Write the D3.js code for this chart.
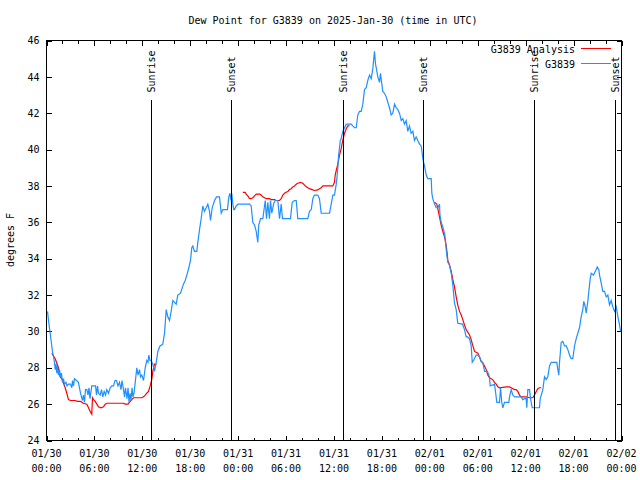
<!DOCTYPE html>
<html><head><meta charset="utf-8">
<script src="https://cdn.jsdelivr.net/npm/d3@7"></script>
<style>
body{margin:0;background:#fff}
svg text{font-family:"DejaVu Sans Mono","Liberation Mono",monospace;font-size:10px;fill:#000}
</style></head><body>
<svg id="chart" width="640" height="480"></svg>
<script>
const titleText = "Dew Point for G3839 on 2025-Jan-30 (time in UTC)";
const yLabelText = "degrees F";
const seriesNames = ["G3839 Analysis", "G3839"];
const seriesColors = ["#ff0000", "#1e90ff"];
// hours after 2025-01-30 00:00 UTC, dew point (F)
const obsSeries = [[0.13,31.1],[0.25,30.6],[0.46,29.9],[0.66,29.2],[0.75,28.9],[0.88,28.6],[1.0,28.3],[1.09,27.9],[1.19,28.2],[1.29,27.7],[1.38,28.1],[1.5,27.6],[1.63,27.9],[1.75,27.5],[1.88,27.7],[2.0,27.2],[2.13,27.4],[2.25,27.1],[2.44,27.2],[2.57,27.0],[2.75,27.1],[3.0,27.1],[3.17,26.9],[3.26,27.3],[3.38,27.0],[3.5,27.4],[3.76,27.3],[4.0,27.2],[4.13,26.9],[4.26,26.6],[4.38,26.4],[4.51,26.2],[4.63,26.5],[4.76,26.1],[4.88,26.8],[5.05,26.8],[5.2,26.5],[5.32,26.9],[5.45,26.3],[5.67,27.0],[5.89,27.0],[6.14,27.0],[6.26,26.5],[6.39,27.0],[6.51,26.6],[6.72,26.5],[6.89,26.8],[7.05,26.4],[7.22,26.7],[7.39,26.5],[7.55,26.8],[7.76,26.6],[7.98,26.9],[8.18,27.0],[8.39,27.0],[8.58,27.3],[8.77,27.3],[8.95,27.0],[9.14,27.2],[9.33,26.8],[9.45,27.3],[9.64,26.8],[9.77,26.4],[9.89,26.9],[10.08,26.3],[10.21,26.9],[10.33,26.1],[10.46,26.6],[10.58,26.2],[10.71,26.9],[10.83,26.4],[10.96,26.6],[11.11,27.2],[11.31,28.0],[11.46,27.6],[11.65,27.9],[11.77,27.5],[11.93,27.6],[12.15,27.3],[12.36,28.0],[12.56,28.4],[12.71,28.3],[12.81,28.7],[12.96,28.4],[13.11,28.4],[13.31,28.2],[13.52,27.8],[13.74,28.3],[13.94,28.9],[14.21,29.2],[14.56,29.3],[14.78,29.9],[14.99,31.2],[15.19,30.8],[15.4,30.6],[15.61,31.1],[15.82,31.7],[16.03,31.6],[16.24,31.5],[16.44,32.0],[16.78,32.1],[17.15,32.6],[17.37,32.8],[17.57,33.1],[17.82,33.5],[18.03,33.9],[18.19,34.6],[18.32,34.7],[18.53,34.4],[18.82,34.4],[18.95,34.9],[19.16,35.6],[19.37,36.2],[19.57,36.9],[19.78,36.6],[20.0,36.8],[20.2,37.0],[20.41,36.6],[20.54,36.1],[20.75,36.8],[21.04,37.2],[21.29,37.4],[21.66,37.4],[21.88,36.5],[22.08,36.7],[22.41,36.7],[22.66,36.7],[22.83,37.4],[22.98,37.6],[23.1,37.2],[23.2,37.6],[23.33,37.0],[23.45,36.7],[23.54,36.7],[23.75,36.9],[23.98,37.0],[24.42,37.0],[24.92,37.0],[25.42,37.0],[25.63,36.9],[25.83,36.0],[26.05,35.85],[26.26,35.5],[26.46,34.9],[26.58,35.85],[26.8,36.2],[27.09,36.2],[27.3,36.9],[27.39,37.2],[27.55,36.2],[27.71,37.1],[27.92,36.2],[28.05,37.2],[28.21,36.5],[28.46,37.05],[28.64,37.2],[28.96,37.2],[29.18,36.2],[29.39,37.0],[29.55,36.2],[30.18,36.2],[30.55,36.2],[30.77,37.1],[31.05,37.2],[31.27,37.2],[31.47,36.2],[32.31,36.2],[32.72,36.2],[32.93,36.6],[33.15,36.7],[33.35,37.3],[33.56,37.5],[33.97,37.5],[34.18,37.3],[34.4,36.5],[34.81,36.5],[35.44,36.5],[35.65,37.0],[35.85,37.5],[36.06,37.5],[36.28,38.1],[36.38,38.5],[36.48,39.0],[36.56,39.6],[36.69,40.1],[36.79,40.5],[36.9,40.6],[37.1,41.0],[37.32,41.2],[37.53,41.4],[38.15,41.4],[38.35,41.3],[38.57,41.2],[38.78,41.2],[38.98,41.9],[39.19,42.1],[39.41,42.1],[39.61,42.5],[39.82,43.3],[40.03,43.4],[40.23,43.8],[40.45,44.1],[40.66,43.9],[40.86,44.45],[41.07,45.4],[41.2,44.7],[41.29,44.5],[41.49,44.0],[41.7,43.7],[41.82,44.2],[41.99,43.6],[42.11,43.2],[42.32,43.1],[42.54,42.9],[42.74,42.6],[42.95,42.3],[43.16,41.9],[43.36,42.0],[43.58,42.5],[43.79,42.3],[43.99,42.2],[44.2,42.0],[44.42,41.6],[44.62,41.7],[44.83,41.4],[45.04,41.6],[45.24,41.0],[45.45,41.3],[45.66,40.9],[45.87,41.0],[46.08,40.5],[46.29,40.7],[46.49,40.5],[46.71,40.3],[46.92,40.2],[47.04,39.8],[47.12,39.5],[47.33,39.1],[47.55,38.6],[47.75,38.4],[48.17,38.4],[48.25,37.6],[48.37,37.3],[48.59,37.0],[48.8,36.8],[49.0,36.8],[49.21,37.0],[49.27,36.4],[49.42,36.0],[49.62,35.75],[49.84,35.4],[49.96,35.0],[50.05,34.5],[50.25,33.8],[50.46,33.65],[50.68,33.2],[50.88,32.55],[51.09,31.55],[51.3,31.2],[51.5,30.45],[52.09,30.4],[52.34,30.1],[52.55,29.7],[52.72,29.7],[52.97,29.6],[53.18,29.2],[53.31,28.3],[53.47,28.4],[53.81,28.7],[54.01,28.7],[54.22,28.6],[54.43,28.35],[54.63,28.3],[54.85,27.8],[55.22,27.8],[55.47,27.5],[55.56,27.0],[56.1,27.1],[56.22,26.7],[56.39,26.1],[56.73,26.1],[56.85,26.9],[57.01,26.1],[57.14,25.8],[57.35,26.1],[57.89,26.1],[57.98,26.4],[58.19,26.8],[58.39,26.5],[58.6,26.4],[59.44,26.4],[59.64,26.25],[59.85,26.3],[60.07,26.3],[60.14,25.8],[60.27,26.8],[60.48,26.8],[60.61,26.3],[60.82,25.8],[61.73,25.8],[61.82,26.3],[61.95,26.5],[62.15,26.8],[62.24,27.1],[62.36,27.5],[62.57,27.35],[62.77,27.5],[62.99,28.1],[63.2,28.3],[63.9,28.3],[64.03,27.9],[64.15,27.6],[64.24,28.3],[64.45,29.4],[64.65,29.45],[64.86,29.2],[65.08,29.2],[65.28,29.0],[65.49,28.7],[65.7,28.5],[65.9,28.5],[66.12,29.2],[66.33,29.6],[66.53,29.9],[66.74,30.2],[66.95,30.8],[67.15,31.2],[67.28,31.65],[67.49,31.3],[67.58,31.0],[67.78,31.65],[67.91,32.2],[68.08,32.9],[68.21,33.2],[68.5,33.1],[68.83,33.4],[68.96,33.55],[69.16,33.4],[69.25,33.1],[69.46,32.65],[69.66,32.2],[69.87,32.2],[70.09,31.9],[70.29,32.0],[70.5,31.45],[70.71,31.7],[70.91,31.35],[71.13,31.1],[71.34,31.35],[71.55,30.8],[71.76,30.35],[71.88,30.0]];
// analysis series; null marks a gap
const anaSeries = [[0.66,28.8],[1.09,28.5],[1.29,28.25],[1.5,28.0],[1.72,27.5],[1.92,27.4],[2.13,27.15],[2.34,26.9],[2.54,26.6],[2.75,26.25],[3.0,26.2],[3.59,26.2],[3.88,26.15],[4.26,26.15],[4.63,26.05],[5.05,26.0],[5.26,25.8],[5.47,25.6],[5.67,25.45],[5.76,26.35],[5.89,26.25],[6.1,26.15],[6.3,26.0],[6.51,25.85],[6.82,25.8],[7.14,25.85],[7.35,26.0],[7.55,26.05],[8.51,26.05],[9.64,26.05],[9.85,26.0],[10.21,26.0],[10.48,26.15],[10.68,26.25],[10.89,26.35],[11.93,26.35],[12.15,26.4],[12.36,26.5],[12.56,26.6],[12.77,26.7],[12.98,27.0],[13.18,27.35],[13.31,27.8],[13.52,28.2],[13.77,28.2],
[14.0,null],
[24.58,37.65],[24.88,37.65],[25.0,37.55],[25.21,37.45],[25.42,37.3],[25.63,37.3],[25.83,37.35],[26.05,37.45],[26.26,37.55],[26.67,37.55],[26.88,37.5],[27.09,37.4],[27.3,37.35],[27.51,37.3],[27.92,37.3],[28.13,37.25],[28.55,37.25],[28.76,37.2],[29.18,37.2],[29.39,37.3],[29.59,37.5],[29.8,37.6],[30.01,37.65],[30.22,37.7],[30.43,37.8],[30.64,37.85],[30.84,37.95],[31.05,38.0],[31.27,38.1],[31.47,38.15],[31.8,38.2],[32.09,38.15],[32.31,38.05],[32.52,37.95],[32.72,37.9],[32.93,37.85],[33.25,37.8],[33.56,37.75],[33.97,37.78],[34.18,37.85],[34.4,37.9],[34.6,38.0],[35.22,38.0],[35.85,38.0],[36.06,38.2],[36.15,38.6],[36.28,38.85],[36.48,39.2],[36.69,39.7],[36.9,40.05],[37.1,40.5],[37.32,40.9],[37.53,41.15],[37.73,41.3],[37.94,41.3],
[38.2,null],
[48.59,37.1],[48.87,37.0],[49.0,36.75],[49.21,36.3],[49.42,35.85],[49.62,35.5],[49.84,35.2],[50.05,34.7],[50.17,34.3],[50.25,33.9],[50.46,33.65],[50.68,33.3],[50.88,32.85],[51.09,32.45],[51.3,31.9],[51.5,31.45],[51.72,31.1],[51.93,30.9],[52.13,30.65],[52.34,30.35],[52.55,30.1],[52.76,29.95],[52.97,29.8],[53.18,29.55],[53.39,29.2],[53.6,28.9],[54.01,28.8],[54.22,28.6],[54.43,28.35],[54.63,28.25],[54.85,28.1],[55.06,27.9],[55.26,27.6],[55.47,27.45],[55.68,27.4],[55.88,27.35],[56.1,27.2],[56.31,27.1],[56.51,26.95],[56.73,26.9],[57.56,26.95],[57.98,26.95],[58.19,26.9],[58.6,26.8],[58.81,26.8],[59.02,26.7],[59.23,26.5],[59.44,26.4],[60.07,26.4],[60.48,26.35],[60.9,26.35],[61.11,26.5],[61.32,26.7],[61.52,26.85],[61.73,26.9],[61.95,26.9]];
const sunHours = [13.08, 23.04, 37.1, 47.12, 61.03, 71.2];
const sunLabels = ["Sunrise","Sunset","Sunrise","Sunset","Sunrise","Sunset"];
const sunLineTop = 42.75;
const xMajorHours = [0,6,12,18,24,30,36,42,48,54,60,66,72];
const xMinorHours = d3.range(0, 73, 2).filter(h => h % 6 !== 0);
const xTickDates = ["01/30","01/30","01/30","01/30","01/31","01/31","01/31","01/31","02/01","02/01","02/01","02/01","02/02"];
const xTickTimes = ["00:00","06:00","12:00","18:00","00:00","06:00","12:00","18:00","00:00","06:00","12:00","18:00","00:00"];
const yTicks = [24,26,28,30,32,34,36,38,40,42,44,46];

const svg = d3.select("#chart");
const L = 46.5, R = 621.5, T = 40.5, B = 440.5;
const x = d3.scaleLinear().domain([0, 72]).range([L, R]);
const y = d3.scaleLinear().domain([24, 46]).range([B, T]);

// title
svg.append("text").attr("x", 333).attr("y", 24).attr("text-anchor", "middle").text(titleText);
// y label
svg.append("text").attr("transform", "translate(14,240) rotate(-90)").attr("text-anchor", "middle").text(yLabelText);

function tickAxis(gen, tr) {
  const g = svg.append("g").attr("transform", tr).call(gen);
  g.select(".domain").remove();
  g.selectAll("line").attr("stroke", "#000").attr("shape-rendering", "crispEdges");
  return g;
}
tickAxis(d3.axisBottom(x).tickValues(xMajorHours).tickSize(-5).tickFormat(""), `translate(0,${B})`);
tickAxis(d3.axisBottom(x).tickValues(xMinorHours).tickSize(-3).tickFormat(""), `translate(0,${B})`);
tickAxis(d3.axisTop(x).tickValues(xMajorHours).tickSize(-5).tickFormat(""), `translate(0,${T})`);
tickAxis(d3.axisTop(x).tickValues(xMinorHours).tickSize(-3).tickFormat(""), `translate(0,${T})`);
const gy = tickAxis(d3.axisLeft(y).tickValues(yTicks).tickSize(-5).tickPadding(7).tickFormat(d3.format("d")), `translate(${L},0)`);
gy.attr("font-family", null).attr("font-size", null);
tickAxis(d3.axisRight(y).tickValues(yTicks).tickSize(-5).tickFormat(""), `translate(${R},0)`);

// x labels
const xl = svg.append("g").selectAll("text").data(xMajorHours).join("text")
  .attr("x", d => x(d)).attr("text-anchor", "middle");
xl.append("tspan").attr("x", d => x(d)).attr("y", 457).text((d, i) => xTickDates[i]);
xl.append("tspan").attr("x", d => x(d)).attr("y", 472).text((d, i) => xTickTimes[i]);

// series
const line = d3.line().defined(d => d[1] !== null).x(d => x(d[0])).y(d => y(d[1]));
svg.append("path").datum(anaSeries).attr("d", line).attr("fill", "none").attr("stroke", seriesColors[0]).attr("stroke-width", 1.2);
svg.append("path").datum(obsSeries).attr("d", line).attr("fill", "none").attr("stroke", seriesColors[1]).attr("stroke-width", 1.2);

// sun lines
const sg = svg.append("g");
sg.selectAll("line").data(sunHours).join("line")
  .attr("x1", d => Math.round(x(d)) + 0.5).attr("x2", d => Math.round(x(d)) + 0.5)
  .attr("y1", y(sunLineTop)).attr("y2", B).attr("stroke", "#000").attr("shape-rendering", "crispEdges");
sg.selectAll("text").data(sunHours).join("text")
  .attr("transform", d => `translate(${Math.round(x(d)) + 0.5},${y(sunLineTop) - 7}) rotate(-90)`)
  .attr("dy", "0.35em").attr("text-anchor", "start").text((d, i) => sunLabels[i]);

// legend
const leg = svg.append("g");
seriesNames.forEach((n, i) => {
  const ly = 48.5 + i * 14.5;
  leg.append("text").attr("x", 575).attr("y", ly + 1).attr("dy", "0.35em").attr("text-anchor", "end").text(n);
  leg.append("line").attr("x1", 581).attr("x2", 611).attr("y1", ly).attr("y2", ly)
    .attr("stroke", seriesColors[i]).attr("stroke-width", 1).attr("shape-rendering", "crispEdges");
});

// border
svg.append("rect").attr("x", L).attr("y", T).attr("width", R - L).attr("height", B - T)
  .attr("fill", "none").attr("stroke", "#000").attr("shape-rendering", "crispEdges");
</script>
</body></html>
